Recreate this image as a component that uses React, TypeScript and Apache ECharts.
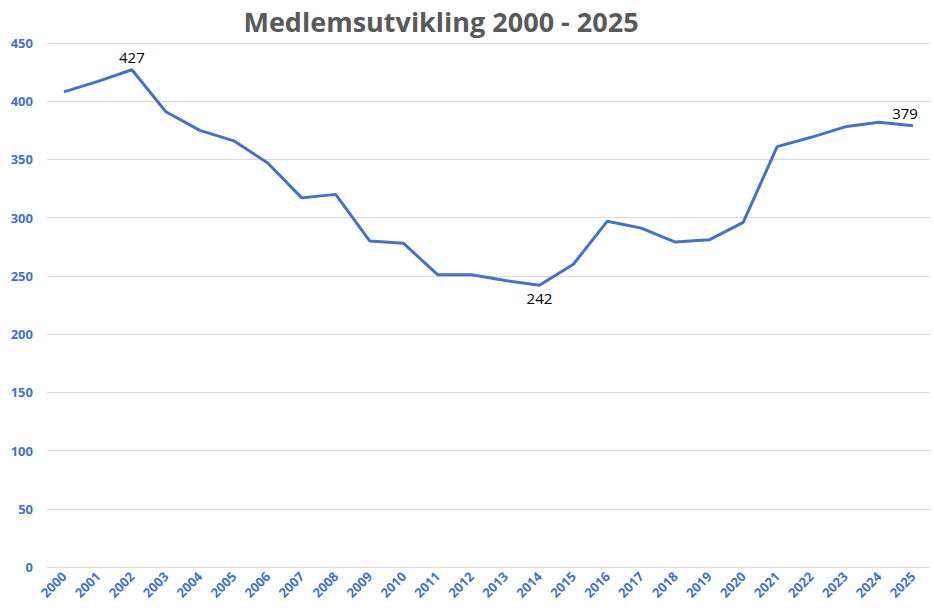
import React, { useEffect, useRef } from "react";
import * as echarts from "echarts";

const years = [
  "2000", "2001", "2002", "2003", "2004", "2005", "2006", "2007", "2008", "2009",
  "2010", "2011", "2012", "2013", "2014", "2015", "2016", "2017", "2018", "2019",
  "2020", "2021", "2022", "2023", "2024", "2025",
];
const members = [
  408, 417, 427, 391, 375, 366, 347, 317, 320, 280,
  278, 251, 251, 246, 242, 260, 297, 291, 279, 281,
  296, 361, 369, 378, 382, 379,
];
const labelAboveYears = ["2002", "2025"];
const labelBelowYears = ["2014"];
const yTicks = { min: 0, max: 450, interval: 50 };
const title = "Medlemsutvikling 2000 - 2025";

export default function App() {
  const ref = useRef<HTMLDivElement>(null);
  useEffect(() => {
    if (!ref.current) return;
    const chart = echarts.init(ref.current, undefined, { renderer: "svg" });
    const blue = "#4472C4";
    const last = years.length - 1;
    const data = members.map((v, i) => {
      const y = years[i];
      if (labelAboveYears.includes(y)) {
        return {
          value: v,
          label: { show: true, position: "top", distance: 5, offset: i === last ? [-8, 0] : [0, 0] },
        };
      }
      if (labelBelowYears.includes(y)) {
        return { value: v, label: { show: true, position: "bottom", distance: 5 } };
      }
      return { value: v };
    });
    chart.setOption({
      animation: false,
      backgroundColor: "#ffffff",
      title: {
        text: title,
        left: 436,
        top: 3,
        textAlign: "center",
        textStyle: {
          fontFamily: "Open Sans",
          fontWeight: "bold",
          fontSize: 27,
          color: "#595959",
        },
      },
      grid: { left: 47, right: 4, top: 43, bottom: 49 },
      xAxis: {
        type: "category",
        data: years,
        boundaryGap: true,
        axisLine: { show: false },
        axisTick: { show: false },
        axisLabel: {
          rotate: 45,
          interval: 0,
          margin: 7,
          color: blue,
          fontWeight: "bold",
          fontSize: 13,
          fontFamily: "Open Sans",
        },
      },
      yAxis: {
        type: "value",
        min: yTicks.min,
        max: yTicks.max,
        interval: yTicks.interval,
        axisLine: { show: false },
        axisTick: { show: false },
        axisLabel: {
          margin: 14,
          color: blue,
          fontWeight: "bold",
          fontSize: 13,
          fontFamily: "Open Sans",
        },
        splitLine: { lineStyle: { color: "#d9d9d9", width: 1 } },
      },
      series: [
        {
          type: "line",
          data,
          symbol: "circle",
          symbolSize: 0,
          showSymbol: true,
          lineStyle: { color: blue, width: 3 },
          itemStyle: { color: blue },
          label: {
            show: false,
            color: "#000000",
            fontSize: 15,
            fontFamily: "Open Sans",
          },
        },
      ],
    });
    return () => chart.dispose();
  }, []);
  return <div ref={ref} style={{ width: 934, height: 616, position: "absolute", left: 0, top: 0 }} />;
}
